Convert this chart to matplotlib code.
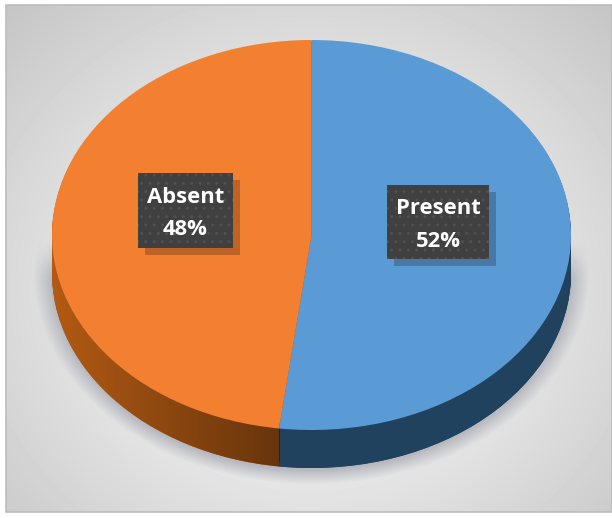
import numpy as np
import matplotlib
matplotlib.use('Agg')
import matplotlib.pyplot as plt
from matplotlib.patches import Rectangle

plt.rcParams['font.family'] = ['Open Sans', 'DejaVu Sans']
plt.rcParams['hatch.linewidth'] = 1.0

categories = ['Present', 'Absent']
values = [52, 48]
top_colors = ['#5b9bd5', '#f28030']
side_colors = ['#20425f', '#b25a14']

W, H = 612, 518
fig = plt.figure(figsize=(W / 100, H / 100), dpi=100, facecolor='white')


def px_axes(x0, y0, x1, y1):
    # axes placed by pixel box, y measured from the top of the picture
    return fig.add_axes([x0 / W, 1 - y1 / H, (x1 - x0) / W, (y1 - y0) / H])


# background panel, light in the middle and grey in the corners
bg = fig.add_axes([0, 0, 1, 1])
bg.set_xlim(0, W)
bg.set_ylim(H, 0)
bg.axis('off')
xx, yy = np.meshgrid(np.arange(6, W), np.arange(5, 512))
r = np.hypot((xx - 309) / 380, (yy - 290) / 340)
shade = 0.925 - 0.13 * np.clip(r - 0.45, 0, None) / 0.6
bg.imshow(shade, cmap='gray', vmin=0, vmax=1, extent=(6, W, 512, 5), aspect='auto', zorder=0)
bg.add_patch(Rectangle((6, 5), W - 6, 507, fill=False, ec='#bcbcbc', lw=1.2, zorder=1))

# soft shadow under the pie
d = np.hypot((xx - 311) / 278, (yy - 272) / 212)
alpha = 0.85 * np.clip((1.0 - d) / 0.07, 0, 1) * np.clip((yy - 242) / 35, 0, 1)
shadow = np.zeros(xx.shape + (4,))
shadow[..., 0] = 0.68
shadow[..., 1] = 0.69
shadow[..., 2] = 0.72
shadow[..., 3] = alpha
bg.imshow(shadow, extent=(6, W, 512, 5), aspect='auto', zorder=2)
bg.set_xlim(0, W)
bg.set_ylim(H, 0)

# pie: flattened by the shape of its axes, the rim is a stack of lowered copies
ax = px_axes(52, 40, 571, 430)
ax.patch.set_alpha(0)
depth = 38 / 195
rim = ax.pie(values, colors=side_colors, startangle=90, counterclock=False,
             center=(0, -depth), wedgeprops={'linewidth': 0, 'clip_on': False})[0]
for k in np.linspace(depth, 0.005, 30):
    ax.pie(values, colors=side_colors, startangle=90, counterclock=False,
           center=(0, -k), wedgeprops={'linewidth': 0, 'clip_on': False})

# the orange rim gets darker towards the middle of the pie
grad = np.zeros((1, 200, 4))
grad[..., 3] = np.linspace(0, 0.42, 200)
grad_im = ax.imshow(grad, extent=(-1, -0.125, -1.3, 0.2), aspect='auto', zorder=3)
grad_im.set_clip_box(fig.bbox)
grad_im.set_clip_path(None)

ax.pie(values, colors=top_colors, startangle=90, counterclock=False,
       wedgeprops={'linewidth': 0, 'clip_on': False, 'zorder': 4})
ax.set_aspect('auto')
ax.set_xlim(-1, 1)
ax.set_ylim(-1, 1)
ax.axis('off')
grad_im.set_clip_path(rim[1])

# labels drawn on a top layer in pixel units
top = fig.add_axes([0, 0, 1, 1])
top.patch.set_alpha(0)
top.set_xlim(0, W)
top.set_ylim(H, 0)
top.axis('off')
boxes = {'Present': (387, 185, 102, 74), 'Absent': (138, 173, 95, 75)}
for name, val in zip(categories, values):
    x, y, w, h = boxes[name]
    top.add_patch(Rectangle((x + 7, y + 7), w, h, fc='black', alpha=0.22, lw=0))
    top.add_patch(Rectangle((x, y), w, h, fc='#404040', ec='#505050', hatch='..', lw=0))
    top.text(x + w / 2, y + h / 2 + 3, f'{name}\n{val}%', color='white', fontsize=15.8,
             fontweight='bold', ha='center', va='center', linespacing=1.7)

fig.savefig('out.png', dpi=100)
